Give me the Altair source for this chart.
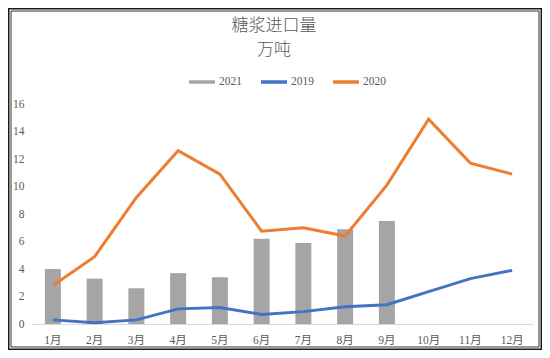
import altair as alt
import pandas as pd

months = ["1月", "2月", "3月", "4月", "5月", "6月", "7月", "8月", "9月", "10月", "11月", "12月"]
series_order = ["2021", "2019", "2020"]
series_colors = ["#A5A5A5", "#4472C4", "#ED7D31"]

v2021 = [4.0, 3.3, 2.6, 3.7, 3.4, 6.2, 5.9, 6.9, 7.5]
v2019 = [0.3, 0.1, 0.3, 1.1, 1.2, 0.7, 0.9, 1.25, 1.4, 2.35, 3.3, 3.9]
v2020 = [2.8, 4.9, 9.2, 12.6, 10.9, 6.75, 7.0, 6.4, 10.1, 14.9, 11.7, 10.9]
y_ticks = [0, 2, 4, 6, 8, 10, 12, 14, 16]
title_lines = ["糖浆进口量", "万吨"]

df_bar = pd.DataFrame({"month": months[:len(v2021)], "value": v2021, "series": "2021"})
df_line = pd.concat([
    pd.DataFrame({"month": months, "value": v2019, "series": "2019"}),
    pd.DataFrame({"month": months, "value": v2020, "series": "2020"}),
])

LATIN = "Liberation Serif, Noto Sans CJK SC"
GRAY_TXT = "#595959"

x_enc = alt.X(
    "month:N", sort=months,
    scale=alt.Scale(domain=months, paddingInner=0, paddingOuter=0),
    axis=alt.Axis(title=None, labelAngle=0, ticks=False, domainColor="#D9D9D9",
                  domainWidth=1, labelFont=LATIN, labelFontSize=11.5,
                  labelColor=GRAY_TXT, labelPadding=10, grid=False),
)
y_enc = alt.Y(
    "value:Q",
    scale=alt.Scale(domain=[0, 16], nice=False),
    axis=alt.Axis(title=None, values=y_ticks, domain=False, ticks=False, grid=False,
                  labelFont=LATIN, labelFontSize=11.5, labelColor=GRAY_TXT,
                  labelPadding=8),
)
color_scale = alt.Scale(domain=series_order, range=series_colors)
legend = alt.Legend(
    title=None, orient="none", legendX=155, legendY=-37,
    direction="horizontal", symbolType="stroke", symbolSize=676,
    symbolStrokeWidth=3.5, labelFont=LATIN, labelFontSize=11.5,
    labelColor=GRAY_TXT, labelOffset=2, columnPadding=12,
)

bars = alt.Chart(df_bar).mark_bar(size=16).encode(
    x=x_enc, y=y_enc,
    color=alt.Color("series:N", scale=color_scale, sort=series_order, legend=legend),
)

lines = alt.Chart(df_line).mark_line(strokeWidth=3).encode(
    x=x_enc, y=y_enc,
    color=alt.Color("series:N", scale=color_scale, sort=series_order, legend=legend),
)

df_title = pd.DataFrame({"text": title_lines, "dy": [-78, -54]})
title = alt.Chart(df_title).mark_text(
    font="Noto Sans CJK SC", fontSize=17, fontWeight=300, color=GRAY_TXT,
    align="center", baseline="middle"
).encode(
    text="text:N",
    x=alt.value(242),
    y=alt.Y("dy:Q", scale=None),
)

frame_df = pd.DataFrame({"k": [0]})
outer = alt.Chart(frame_df).mark_rect(fillOpacity=0, stroke="#1a1a1a", strokeWidth=1.5).encode(
    x=alt.value(-23.25), x2=alt.value(509.25), y=alt.value(-95.25), y2=alt.value(245.25)
)
inner = alt.Chart(frame_df).mark_rect(fillOpacity=0, stroke="#333333", strokeWidth=1).encode(
    x=alt.value(-21), x2=alt.value(507), y=alt.value(-93), y2=alt.value(243)
)

chart = alt.layer(bars, lines, title, outer, inner).properties(
    width=501,
    height=220,
    autosize="none",
    padding={"left": 24, "top": 96, "right": 9, "bottom": 26},
).configure(background="white").configure_view(stroke=None)

chart.save("out.html", embed_options={"renderer": "svg", "actions": False})
